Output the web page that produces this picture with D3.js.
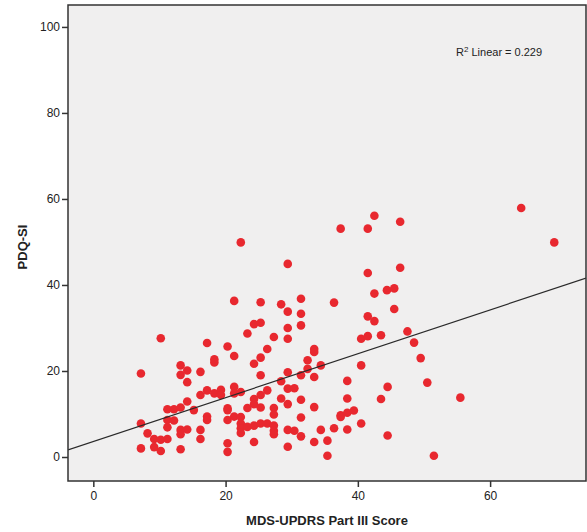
<!DOCTYPE html>
<html><head><meta charset="utf-8">
<script src="https://cdn.jsdelivr.net/npm/d3@7"></script>
<style>body{margin:0;background:#fff}svg{display:block}</style>
</head><body><svg id="c" width="587" height="532"></svg>
<script>
const xTicks = [0, 20, 40, 60];
const yTicks = [0, 20, 40, 60, 80, 100];
const xTitle = "MDS-UPDRS Part III Score";
const yTitle = "PDQ-SI";
const fitIntercept = 3.6, fitSlope = 0.51;
const r2Label = "0.229";
const updrs = [22.3,21.3,
42.5,46.4,37.4,41.5,29.4,41.5,46.4,42.5,44.4,45.5,45.5,25.3,28.4,31.4,29.4,31.4,31.4,29.4,36.4,41.5,42.5,24.3,25.3,
64.7,69.7,47.5,48.5,49.5,50.5,55.5,51.5,
27.3,29.4,40.5,41.5,43.5,26.3,25.3,24.3,33.4,33.4,32.4,34.4,40.5,32.4,29.4,31.4,33.4,25.3,28.4,38.4,44.5,29.4,30.4,26.3,25.3,24.3,24.3,25.3,28.4,31.4,29.4,27.3,27.3,33.4,38.4,43.5,31.4,37.4,37.4,38.4,39.4,40.5,24.3,25.3,26.3,27.3,27.3,27.3,29.4,30.4,31.4,34.4,36.4,38.4,44.5,24.3,33.4,35.4,29.4,35.4,
10.2,23.3,17.2,20.3,21.3,18.3,18.3,7.2,13.2,14.2,13.2,16.2,14.2,16.2,17.2,18.3,19.3,19.3,21.3,21.3,22.3,11.2,12.2,13.2,14.2,15.2,20.3,20.3,23.3,7.2,11.2,12.2,11.2,13.2,13.2,14.2,17.2,17.2,16.2,16.2,20.3,21.3,22.3,22.3,22.3,22.3,23.3,7.2,8.2,9.2,10.2,11.2,9.2,10.2,13.2,20.3,20.3];
const pdq = [49.9,36.3,
56.1,54.7,53.1,53.1,44.9,42.8,44.0,38.0,38.8,39.2,34.4,36.0,35.5,36.8,33.8,33.3,30.6,30.0,35.9,32.7,31.6,30.9,31.2,
57.9,49.9,29.2,26.6,23.0,17.3,13.8,0.3,
27.9,27.5,27.5,28.1,28.3,25.1,23.1,21.7,25.1,24.4,22.5,21.3,21.3,20.5,19.7,19.0,18.6,19.0,17.6,17.7,16.3,15.9,16.0,15.5,14.4,13.5,12.3,11.5,13.6,13.3,12.3,11.4,9.9,11.6,13.6,13.5,9.2,9.7,9.3,10.3,10.8,7.8,7.3,7.8,7.8,7.3,6.1,5.3,6.3,6.1,4.8,6.3,6.7,6.4,5.0,3.5,3.5,3.8,2.4,0.3,
27.6,28.7,26.5,25.7,23.5,22.7,22.0,19.4,21.3,20.1,19.1,19.8,17.4,14.4,15.5,14.8,15.6,14.4,16.3,14.8,15.1,11.1,11.1,11.5,12.9,10.9,11.3,10.9,11.4,7.8,8.6,8.5,6.9,6.3,5.3,6.4,9.4,8.6,6.3,4.2,8.6,9.4,9.3,7.8,6.7,5.6,7.0,2.0,5.5,4.2,4.0,4.2,2.3,1.4,1.8,3.2,1.2];

const svg = d3.select("#c");
const L = 68, R = 586, T = 5, B = 481;
const x = d3.scaleLinear().domain([-3.83, 74.5]).range([L, R]);
const y = d3.scaleLinear().domain([-5.58, 105.1]).range([B, T]);

svg.append("rect").attr("x", L).attr("y", T).attr("width", R - L).attr("height", B - T)
  .attr("fill", "#f0efef");

svg.append("clipPath").attr("id", "pc").append("rect")
  .attr("x", L).attr("y", T).attr("width", R - L).attr("height", B - T);

const g = svg.append("g").attr("clip-path", "url(#pc)");
const pts = updrs.map((v, i) => [v, pdq[i]]);
g.selectAll("circle").data(pts).join("circle")
  .attr("cx", d => x(d[0])).attr("cy", d => y(d[1])).attr("r", 4.3)
  .attr("fill", "#e8282f");

const xd = x.domain();
g.append("line")
  .attr("x1", x(xd[0])).attr("y1", y(fitIntercept + fitSlope * xd[0]))
  .attr("x2", x(xd[1])).attr("y2", y(fitIntercept + fitSlope * xd[1]))
  .attr("stroke", "#2a2a2a").attr("stroke-width", 1.2);

svg.append("rect").attr("x", L).attr("y", T).attr("width", R - L).attr("height", B - T)
  .attr("fill", "none").attr("stroke", "#333").attr("stroke-width", 1.5);

const fontT = "Liberation Sans, Arial, sans-serif";
const ax = svg.append("g").attr("transform", `translate(0,${B})`)
  .call(d3.axisBottom(x).tickValues(xTicks).tickSize(6).tickPadding(4).tickFormat(d3.format("d")));
const ay = svg.append("g").attr("transform", `translate(${L},0)`)
  .call(d3.axisLeft(y).tickValues(yTicks).tickSize(6).tickPadding(2).tickFormat(d3.format("d")));
[ax, ay].forEach(a => {
  a.select(".domain").remove();
  a.selectAll("line").attr("stroke", "#333").attr("stroke-width", 1.5);
  a.selectAll("text").attr("fill", "#222").style("font-family", fontT).style("font-size", "12px");
});

svg.append("text").attr("x", (L + R) / 2).attr("y", 525).attr("text-anchor", "middle")
  .style("font-family", fontT).style("font-size", "13px").style("font-weight", "bold")
  .attr("fill", "#222").text(xTitle);
svg.append("text").attr("transform", "translate(27,247) rotate(-90)").attr("text-anchor", "middle")
  .style("font-family", fontT).style("font-size", "13px").style("font-weight", "bold")
  .attr("fill", "#222").text(yTitle);

const rt = svg.append("text").attr("x", 456).attr("y", 56)
  .style("font-family", fontT).style("font-size", "11px").attr("fill", "#222");
rt.append("tspan").text("R");
rt.append("tspan").attr("dy", -4).style("font-size", "8px").text("2");
rt.append("tspan").attr("dy", 4).text(" Linear = " + r2Label);
</script></body></html>
